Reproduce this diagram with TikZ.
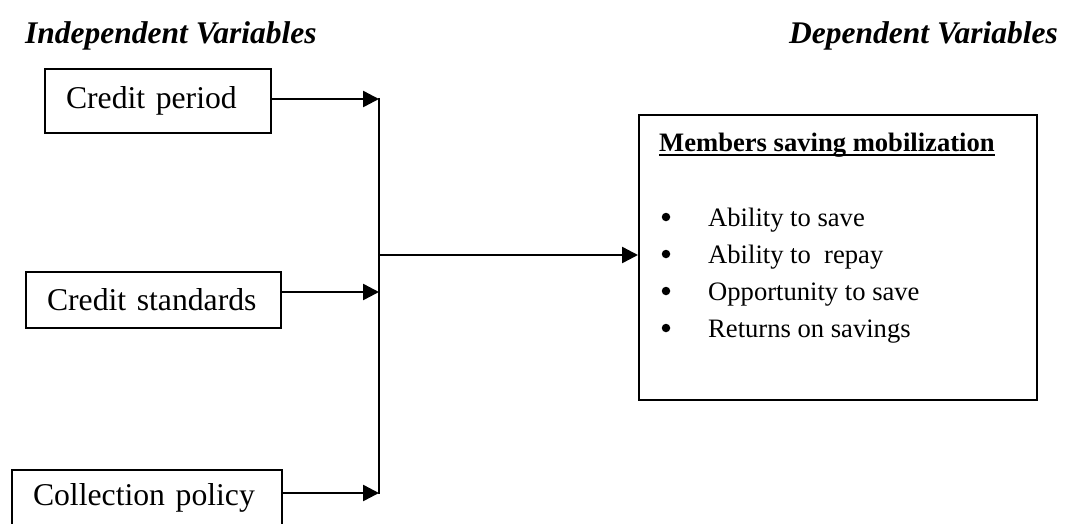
\documentclass[tikz,border=0pt]{standalone}
\usepackage{fontspec}
\setmainfont{Liberation Serif}
\usetikzlibrary{arrows.meta}
\begin{document}
\begin{tikzpicture}[x=1pt,y=-1pt,
  big/.style={font=\fontsize{31.7}{36}\selectfont},
  small/.style={font=\fontsize{26.6}{30}\selectfont},
  ivbox/.style={draw, line width=2pt, rectangle, anchor=north west, big,
    inner xsep=21pt, inner ysep=0pt, align=left},
  heading/.style={anchor=base west, inner sep=0pt, font=\bfseries\itshape\fontsize{31.5}{36}\selectfont},
  itemtext/.style={anchor=base west, inner sep=0pt, small},
  dot/.style={circle, fill=black, inner sep=0pt, minimum size=8.5pt},
  conn/.style={line width=2.5pt, -{Triangle[length=16pt,width=16pt]}},
  bar/.style={line width=2.5pt}]
\useasboundingbox (0,0) rectangle (1073,523);
\clip (0,0) rectangle (1073,523);

% headings
\node[heading] (iv) at (25,43) {Independent Variables};
\node[heading, anchor=base east] (dvh) at (1058,43) {Dependent Variables};

% independent variable boxes
\node[ivbox, text width=184pt, minimum height=64pt] (cp) at (44,68) {Credit period};
\node[ivbox, text width=213pt, minimum height=56pt] (cs) at (25,271) {Credit standards};
\node[ivbox, text width=228pt, minimum height=56pt] (cl) at (11,469) {Collection policy};

% dependent variable box
\node[draw, line width=2pt, rectangle, anchor=north west, inner sep=0pt,
      minimum width=398pt, minimum height=285pt] (dv) at (638,114) {};
\node[anchor=base west, inner sep=0pt, font=\bfseries\fontsize{26.6}{30}\selectfont] (mt) at (659,151) {Members saving mobilization};
\draw[line width=1.6pt] ([yshift=-4pt]mt.base west) -- ([yshift=-4pt]mt.base east);

\node[dot] (b1) at (666,217) {};
\node[dot] (b2) at (666,254) {};
\node[dot] (b3) at (666,291) {};
\node[dot] (b4) at (666,328) {};
\node[itemtext] (t1) at (708,226) {Ability to save};
\node[itemtext] (t2) at (708,263) {Ability to\ \ repay};
\node[itemtext] (t3) at (708,300) {Opportunity to save};
\node[itemtext] (t4) at (708,337) {Returns on savings};

% connectors
\coordinate (a1) at (379,99);
\coordinate (a2) at (379,292);
\coordinate (a3) at (379,493);
\coordinate (j) at (379,255);

\draw[bar] ([yshift=1.25pt]a1) -- ([yshift=-1.25pt]a3);
\draw[conn] (cp.east |- a1) -- (a1);
\draw[conn] (cs.east |- a2) -- (a2);
\draw[conn] (cl.east |- a3) -- (a3);
\draw[conn] (j) -- (j -| dv.west);
\end{tikzpicture}
\end{document}
